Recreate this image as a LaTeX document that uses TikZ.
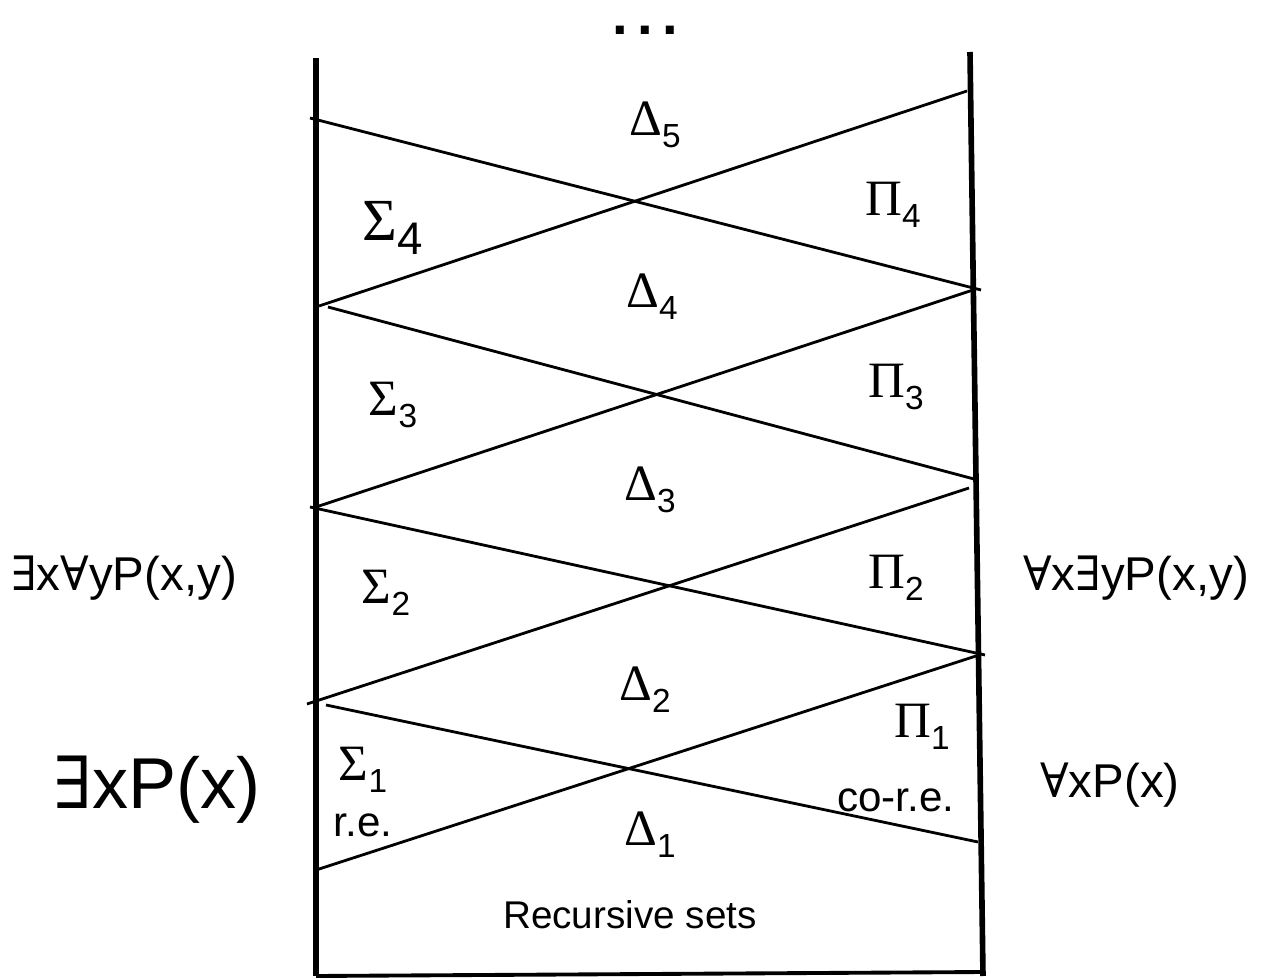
\documentclass[tikz,border=0pt]{standalone}
\usepackage{fontspec}
\setmainfont{Liberation Sans}
\newfontfamily\grkfont{Liberation Serif}
\newfontfamily\qfont{DejaVu Serif}
\newcommand{\lvl}[2]{{\grkfont\fontsize{29}{30}\selectfont #1}\raisebox{-7pt}{\fontsize{19}{19}\selectfont #2}}
\newcommand{\qex}{{\qfont ∃}}
\newcommand{\qall}{{\qfont ∀}}
\begin{document}
\begin{tikzpicture}[x=0.02cm, y=-0.02cm,
    wall/.style={line width=3.2pt},
    cut/.style={line width=1.6pt},
    lvl/.style={font=\fontsize{25}{28}\selectfont},
    side/.style={font=\fontsize{24}{28}\selectfont},
    quant/.style={font=\fontsize{27}{30}\selectfont}]
    \useasboundingbox (0,0) rectangle (1272,979);

    % Walls
    \draw[wall] (316,58) -- (316,976);
    \draw[wall] (970,52) -- (983,976);
    \draw[line width=2.2pt] (316,976) -- (985,972);

    % Falling lines
    \draw[cut] (310,118) -- (981,290);
    \draw[cut] (328,307) -- (974,479);
    \draw[cut] (310,507) -- (985,655);
    \draw[cut] (326,705) -- (978,842);

    % Rising lines
    \draw[cut] (319,306) -- (967,91);
    \draw[cut] (316,507) -- (973,290);
    \draw[cut] (307,704) -- (969,488);
    \draw[cut] (316,870) -- (976,656);

    % Dots on top
    \node[font=\bfseries\fontsize{32}{36}\selectfont, inner sep=0pt] (dots) at (645,30) {.\,.\,.};

    % Levels
    \node[lvl] (d5) at (655,125) {\lvl{Δ}{5}};
    \node[font=\fontsize{34}{36}\selectfont] (s4) at (393,228)
        {{\grkfont Σ}\raisebox{-8pt}{\fontsize{26}{26}\selectfont 4}};
    \node[lvl] (p4) at (893,205) {\lvl{Π}{4}};
    \node[lvl] (d4) at (652,297) {\lvl{Δ}{4}};
    \node[lvl] (s3) at (393,405) {\lvl{Σ}{3}};
    \node[lvl] (p3) at (896,387) {\lvl{Π}{3}};
    \node[lvl] (d3) at (650,490) {\lvl{Δ}{3}};
    \node[lvl] (s2) at (386,593) {\lvl{Σ}{2}};
    \node[lvl] (p2) at (896,578) {\lvl{Π}{2}};
    \node[lvl] (d2) at (645,690) {\lvl{Δ}{2}};
    \node[lvl] (p1) at (922,727) {\lvl{Π}{1}};
    \node[lvl] (s1) at (363,770) {\lvl{Σ}{1}};
    \node[lvl] (d1) at (650,835) {\lvl{Δ}{1}};
    \node[side] (re) at (363,825) {r.e.};
    \node[side] (core) at (896,800) {co-r.e.};
    \node[font=\fontsize{22}{26}\selectfont] (rec) at (630,915) {Recursive sets};

    % Formulas on both sides
    \node[quant] (ea) at (124,578) {\qex x\qall yP(x,y)};
    \node[font=\fontsize{41}{44}\selectfont] (ex) at (157,790) {\qex xP(x)};
    \node[quant] (ae) at (1136,578) {\qall x\qex yP(x,y)};
    \node[quant] (ax) at (1110,785) {\qall xP(x)};
\end{tikzpicture}
\end{document}
